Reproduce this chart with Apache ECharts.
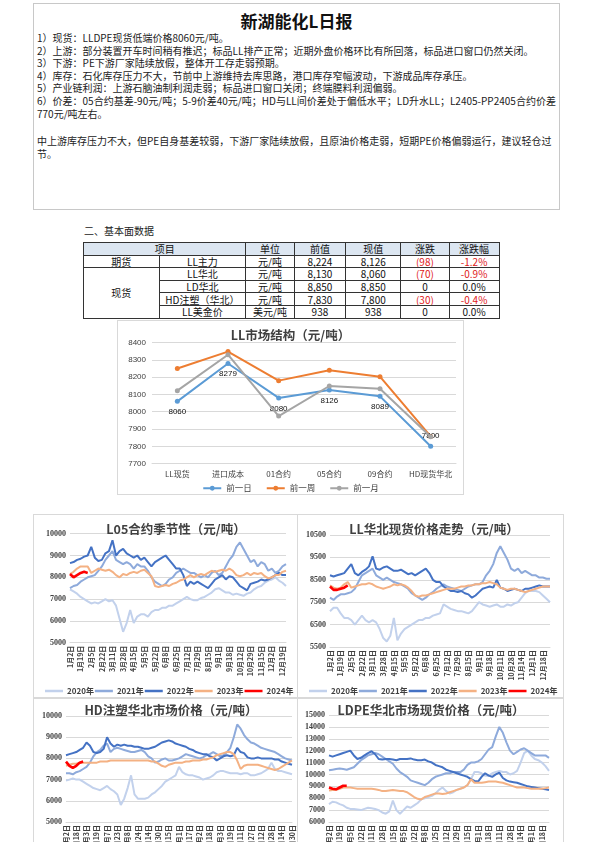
<!DOCTYPE html>
<html><head><meta charset="utf-8">
<script src="https://cdn.jsdelivr.net/npm/echarts@6/dist/echarts.min.js"></script>
<style>
html,body{margin:0;padding:0;background:#fff;width:595px;height:842px;overflow:hidden;font-family:"Noto Sans CJK SC",sans-serif;color:#1a1a1a;}
.abs{position:absolute;}
#box{left:33px;top:3px;width:525px;height:205px;border:1px solid #c8c8c8;}
#ttl{left:0;width:525px;top:7px;text-align:center;font-size:17px;font-weight:bold;line-height:20px;color:#111;}
.ln{position:absolute;left:3px;font-size:10px;line-height:12px;white-space:nowrap;color:#222;}
#sec{left:84px;top:225px;font-size:10px;line-height:12px;color:#222;}
table{position:absolute;left:83px;top:242px;border-collapse:collapse;table-layout:fixed;font-size:10px;color:#111;}
td{border:1px solid #333;height:11.6px;padding:0;line-height:11px;text-align:center;white-space:nowrap;overflow:hidden;}
td.h{background:#dce6f1;}
.red{color:#e02020;}
.cbox{position:absolute;border:1px solid #d9d9d9;overflow:hidden;}
</style></head>
<body>
<div id="box" class="abs">
  <div id="ttl" class="abs">新湖能化L日报</div>
  <div class="ln" style="top:28px">1）现货：LLDPE现货低端价格8060元/吨。</div>
  <div class="ln" style="top:40.5px">2）上游：部分装置开车时间稍有推迟；标品LL排产正常；近期外盘价格环比有所回落，标品进口窗口仍然关闭。</div>
  <div class="ln" style="top:53px">3）下游：PE下游厂家陆续放假，整体开工存走弱预期。</div>
  <div class="ln" style="top:65.5px">4）库存：石化库存压力不大，节前中上游维持去库思路，港口库存窄幅波动，下游成品库存承压。</div>
  <div class="ln" style="top:78px">5）产业链利润：上游石脑油制利润走弱；标品进口窗口关闭；终端膜料利润偏弱。</div>
  <div class="ln" style="top:91px">6）价差：05合约基差-90元/吨；5-9价差40元/吨；HD与LL间价差处于偏低水平；LD升水LL；L2405-PP2405合约价差</div>
  <div class="ln" style="top:103.5px">770元/吨左右。</div>
  <div class="ln" style="top:131px">中上游库存压力不大，但PE自身基差较弱，下游厂家陆续放假，且原油价格走弱，短期PE价格偏弱运行，建议轻仓过</div>
  <div class="ln" style="top:144px">节。</div>
</div>
<div id="sec" class="abs">二、基本面数据</div>
<table>
<colgroup><col style="width:75.6px"><col style="width:86.7px"><col style="width:48.3px"><col style="width:51.7px"><col style="width:55px"><col style="width:48.3px"><col style="width:50px"></colgroup>
<tr><td class="h" colspan="2">项目</td><td class="h">单位</td><td class="h">前值</td><td class="h">现值</td><td class="h">涨跌</td><td class="h">涨跌幅</td></tr>
<tr><td>期货</td><td>LL主力</td><td>元/吨</td><td>8,224</td><td>8,126</td><td class="red">(98)</td><td class="red">-1.2%</td></tr>
<tr><td rowspan="4">现货</td><td>LL华北</td><td>元/吨</td><td>8,130</td><td>8,060</td><td class="red">(70)</td><td class="red">-0.9%</td></tr>
<tr><td>LD华北</td><td>元/吨</td><td>8,850</td><td>8,850</td><td>0</td><td>0.0%</td></tr>
<tr><td>HD注塑（华北）</td><td>元/吨</td><td>7,830</td><td>7,800</td><td class="red">(30)</td><td class="red">-0.4%</td></tr>
<tr><td>LL美金价</td><td>美元/吨</td><td>938</td><td>938</td><td>0</td><td>0.0%</td></tr>
</table>
<div id="mkt" class="cbox" style="left:117px;top:320px;width:345px;height:173px;"></div>
<div id="c1" class="cbox" style="left:33px;top:514px;width:263px;height:183px;"></div>
<div id="c2" class="cbox" style="left:297px;top:514px;width:265px;height:183px;"></div>
<div id="c3" class="cbox" style="left:33px;top:697px;width:263px;height:178px;"></div>
<div id="c4" class="cbox" style="left:297px;top:697px;width:265px;height:178px;"></div>
<script>
// ---------- LL市场结构 ----------
const mktCats = ['LL现货','进口成本','01合约','05合约','09合约','HD现货华北'];
const mktDay = [8060,8279,8080,8126,8089,7800];
const mktWeek = [8250,8348,8180,8240,8203,7857];
const mktMonth = [8122,8330,7975,8149,8133,7855];
const mktTicks = [7700,8400,100];

// ---------- 季节性图 tick labels ----------
const l05Ticks = ["1月2日","1月19日","2月5日","2月22日","3月11日","3月28日","4月15日","5月5日","5月22日","6月8日","6月25日","7月12日","7月29日","8月15日","9月1日","9月18日","10月12日","10月29日","11月15日","12月2日","12月19日"];
const llTicks = ["1月2日","1月19日","2月5日","2月22日","3月11日","3月28日","4月15日","5月5日","5月22日","6月8日","6月25日","7月12日","7月29日","8月15日","9月1日","9月18日","10月11日","10月28日","11月14日","12月1日","12月18日"];
const hdTicks = ["1月2日","1月18日","2月3日","2月19日","3月7日","3月23日","4月8日","4月24日","5月14日","5月30日","6月15日","7月1日","7月17日","8月2日","8月18日","9月3日","9月19日","10月11日","10月27日","11月12日","11月28日","12月14日","12月30日"];
const ldpeTicks = ["1月2日","1月19日","2月5日","2月22日","3月11日","3月28日","4月15日","5月5日","5月22日","6月8日","6月25日","7月12日","7月29日","8月15日","9月1日","9月18日","10月11日","10月28日","11月14日","12月1日","12月18日"];
const years = ['2020年','2021年','2022年','2023年','2024年'];

// L05合约季节性
const l05_2020 = [7450,7350,7250,7100,7000,6900,6800,6850,6800,6900,7000,6900,6950,6700,6100,5500,5900,6500,5900,6200,6300,6300,6200,6400,6500,6500,6600,6600,6700,6700,6800,6900,7000,7100,7000,6950,6950,7050,7100,7200,7300,7450,7500,7400,7300,7300,7200,7250,7200,7150,7250,7300,7450,7550,7600,7750,7850,7900,8000,7850,7750,7600];
const l05_2021 = [7500,7600,7650,7800,7900,8000,8050,8100,8300,8500,8800,9000,9200,8800,8700,8600,8700,8600,8400,8600,8500,8500,8300,8000,7800,7700,7600,7700,7900,8000,8200,8300,8400,8300,8200,8200,8100,8000,8100,8000,8200,8300,8100,8200,8500,8800,9000,9400,9600,9300,9000,8700,8800,8500,8700,8600,8300,8400,8200,8300,8500,8600];
const l05_2022 = [8650,8700,8800,8850,8950,9000,9400,8900,8750,8800,9100,9200,9700,9000,9200,9300,9100,9000,8900,9000,8800,8900,8700,8500,8700,8800,8900,9000,8800,8600,8400,8400,8100,7600,7800,7700,7800,7700,7600,7500,7700,7900,8000,8100,7900,8050,8000,7800,7600,7500,7400,7700,7750,7800,7900,7850,7900,8000,8100,8200,8100,8100];
const l05_2023 = [8150,8250,8400,8500,8500,8500,8200,8300,8400,8350,8300,8350,8250,8100,8000,8150,8100,8200,8250,8200,8300,8350,8200,8050,7600,7550,7600,7650,7600,7700,7750,7850,7900,8000,8100,8000,8100,8150,8100,8200,8300,8250,8300,8350,8300,8400,8300,8100,8050,8100,8200,8100,8200,8150,8200,8050,7950,8000,8100,8100,8250,8300];
const l05_2024 = [8150,8000,8100,8200,8250,8200];

// LL华北现货价格走势
const ll_2020 = [7100,7250,7250,7000,6800,6800,6700,6500,6700,6900,6700,6600,6700,6600,6300,5900,5750,6000,6800,5800,6100,6300,6400,6500,6600,6700,6700,6800,6800,6900,6950,7000,7400,7300,7200,7150,7100,7100,7050,7000,7100,7300,7500,7400,7350,7300,7350,7400,7300,7300,7400,7350,7450,7500,7700,7900,8000,8000,8000,7950,7800,7650,7500];
const ll_2021 = [7700,7600,7750,7850,7850,7900,7950,8100,8400,8700,8800,8900,9000,8700,8600,8500,8600,8500,8400,8350,8300,8200,8100,7900,7800,7700,7600,7700,7850,7950,8100,8200,8300,8200,8150,8100,8050,8000,8100,8200,8250,8300,8300,8400,8700,8900,9200,9700,10000,9700,9400,9000,8900,9000,8800,8900,8800,8700,8700,8600,8600,8550,8550];
const ll_2022 = [8700,8650,8700,8750,8800,9000,9200,8800,8700,8850,8950,9100,9550,9000,8950,9050,9100,9000,8900,8900,8950,8850,8750,8800,8700,8800,8900,9000,8800,8500,8400,8400,8200,8100,8000,8000,7950,8000,7900,7850,7700,7800,7950,8100,8150,8200,8150,8500,8150,8100,8000,8050,8100,8050,8000,8100,8100,8150,8200,8250,8200,8200,8200];
const ll_2023 = [8250,8150,8100,8150,8300,8400,8150,8200,8250,8300,8300,8350,8300,8200,8150,8100,8150,8200,8300,8250,8300,8250,8150,8000,7800,7750,7800,7800,7850,7900,7950,8000,8050,8100,8100,8100,8150,8200,8200,8250,8250,8300,8300,8350,8350,8400,8350,8300,8150,8100,8050,8100,8100,8050,8000,7950,8000,8050,8100,8150,8200,8200,8200];
const ll_2024 = [8200,8050,8050,8100,8150,8250];

// HD注塑华北市场价格
const hd_2020 = [6950,7000,7050,7000,7000,6900,6800,6700,6600,6550,6500,6600,6700,6550,6450,6300,5800,6100,6600,7200,6300,6100,6100,6100,6150,6300,6400,6550,6700,6900,7000,7100,7200,7600,7350,7250,7200,7200,7150,7100,7000,7050,7100,7200,7350,7400,7400,7350,7300,7300,7300,7250,7300,7300,7200,7200,7250,7300,7400,7500,7800,7500,7400,7400,7350,7300,7250];
const hd_2021 = [7300,7300,7250,7350,7400,7500,7600,7800,8100,8300,8400,8600,8700,8300,8450,8500,8450,8400,8350,8300,8300,8350,8400,8300,8100,8000,7800,7850,7950,8000,7900,7900,7950,8000,8100,8200,8150,8100,8050,8000,8050,8150,8200,8300,8200,8100,8150,8300,8500,9000,9600,9400,9100,8900,8750,8700,8600,8500,8450,8400,8350,8300,8200,8100,8000,7950,7900];
const hd_2022 = [8150,8200,8250,8300,8400,8500,8750,8600,8300,8250,8300,8450,9000,8700,8550,8650,8600,8650,8600,8600,8550,8550,8500,8450,8450,8500,8550,8650,8750,8800,8850,8800,8700,8650,8600,8550,8450,8400,8300,8250,8200,8200,8100,8050,7900,8000,8100,8150,8100,8150,8500,8300,8250,8050,8000,8000,8050,8000,8000,8000,8000,7950,7950,7850,7800,7750,7700];
const hd_2023 = [7650,7700,7750,7750,7800,7800,7800,7800,7800,7800,7850,7850,7850,7900,7900,7900,7900,7900,7900,7900,7900,7900,7900,7900,7900,7850,7850,7750,7650,7600,7700,7750,7800,7800,7800,7850,7850,7900,7900,7900,7950,7950,8000,8050,8150,8200,8250,8300,8300,8200,7900,7500,7650,7700,7700,7700,7700,7650,7600,7550,7500,7450,7500,7600,7700,7800,7900];
const hd_2024 = [7850,7650,7550,7650,7800,7850];

// LDPE华北市场现货价格
const ld_2020 = [7500,7700,7650,7500,7400,7200,7100,7100,7050,7000,7100,7200,7150,7100,7000,6800,6700,6900,7800,7000,6700,7000,7300,7200,7400,7600,7900,8000,8100,8200,8400,8700,8900,8600,8400,8500,8700,8800,8900,9100,9600,10200,10200,10100,9900,9900,10100,10200,10300,10200,10200,10000,10100,10300,11000,11800,12000,11600,11300,11200,11000,10700,10300];
const ld_2021 = [10350,10400,10450,10500,10450,10400,10500,10600,10900,11200,11400,11600,11700,11800,11700,11500,11300,11100,10900,10500,10200,10000,9800,9500,9400,9300,9200,9100,9300,9600,9800,9900,10000,10100,10100,10200,10200,10200,10400,10800,11000,11000,11100,11300,11700,12100,12300,13200,14000,13500,12700,12000,11700,11900,12100,12200,12000,11800,11600,11600,11600,11600,11400];
const ld_2022 = [11600,11500,11600,11700,11800,11900,12000,11600,11300,11400,11600,11800,11950,11700,11300,11250,11300,11300,11250,11200,11300,11300,11300,11350,11250,11200,11200,11250,11100,11000,10800,10700,10600,10400,10300,10200,10100,10000,9900,9800,9600,9450,9400,9800,10100,9900,9800,10000,10150,9700,9500,9400,9350,9300,9200,9100,9000,8950,8900,8850,8800,8750,8700];
const ld_2023 = [8650,8700,8700,8800,8900,8900,8900,8850,8800,8800,8800,8800,8800,8750,8700,8600,8600,8650,8700,8650,8600,8600,8500,8300,8100,7950,7900,8100,8200,8300,8400,8400,8350,8400,8500,8600,8700,8800,8900,9100,9600,9300,9300,9300,9350,9400,9400,9400,9350,9300,9200,9100,9000,8900,8900,8900,8850,8800,8800,8800,8800,8850,8900];
const ld_2024 = [8900,8800,8750,8900,9050,9050];

const yearColors = ['#c2d1ec','#8eaadb','#4472c4','#f4b183','#ff0000'];
const CJK = '"Noto Sans CJK SC", sans-serif';
const plain = v => String(v);

function buildCats(ticks, n){
  const c = [];
  for (let k = 0; k < n; k++) {
    c.push(k % 3 === 0 && ticks[k/3] !== undefined ? ticks[k/3] : '\u200b' + k);
  }
  return c;
}

function seasonal(id, cfg){
  const ch = echarts.init(document.getElementById(id), null, {renderer:'canvas'});
  const n = cfg.data[0].length;
  ch.setOption({
    animation:false,
    title:{text:cfg.title, left:cfg.titleX, top:cfg.titleTop, textAlign:'center',
      textStyle:{fontSize:12.5, fontWeight:'bold', color:'#404040', fontFamily:CJK}},
    legend:{data:years, top:cfg.legendTop, left:6, width:300, icon:'rect', itemWidth:18, itemHeight:2.5, itemGap:1,
      textStyle:{fontSize:8, fontWeight:'bold', color:'#404040', fontFamily:CJK, padding:[0,0,0,-1]}},
    grid:{left:cfg.left, right:cfg.right, top:cfg.top, height:cfg.height, containLabel:false},
    xAxis:{type:'category', data:buildCats(cfg.ticks, n), boundaryGap:false,
      axisLine:{lineStyle:{color:'#d9d9d9'}}, axisTick:{show:false},
      axisLabel:{interval:2, rotate:90, fontSize:7, fontWeight:'bold', color:'#404040', margin:3, fontFamily:CJK}},
    yAxis:{type:'value', min:cfg.min, max:cfg.max, interval:cfg.interval,
      axisLine:{show:false}, axisTick:{show:false},
      splitLine:{lineStyle:{color:'#d9d9d9', width:1}},
      axisLabel:{formatter:plain, fontSize:8, fontWeight:'bold', color:'#404040', margin:4, fontFamily:'"Liberation Serif", serif'}},
    series: cfg.data.map((d,i)=>({
      name:years[i], type:'line', data:d, symbol:'none', showSymbol:false,
      lineStyle:{width: i===4 ? 2.6 : 2, color:yearColors[i]}, itemStyle:{color:yearColors[i]},
      z: 2+i
    }))
  });
}

seasonal('c1', {title:'L05合约季节性（元/吨）', titleX:137, titleTop:3, legendTop:167,
  left:36, right:11, top:18.7, height:109, min:5000, max:10000, interval:1000,
  ticks:l05Ticks, data:[l05_2020,l05_2021,l05_2022,l05_2023,l05_2024]});
seasonal('c2', {title:'LL华北现货价格走势（元/吨）', titleX:131, titleTop:3, legendTop:167,
  left:32, right:13, top:20, height:112, min:5500, max:10500, interval:1000,
  ticks:llTicks, data:[ll_2020,ll_2021,ll_2022,ll_2023,ll_2024]});
seasonal('c3', {title:'HD注塑华北市场价格（元/吨）', titleX:132, titleTop:1, legendTop:165,
  left:32, right:5, top:18, height:106, min:5000, max:10000, interval:1000,
  ticks:hdTicks, data:[hd_2020,hd_2021,hd_2022,hd_2023,hd_2024]});
seasonal('c4', {title:'LDPE华北市场现货价格（元/吨）', titleX:128, titleTop:1, legendTop:165,
  left:31, right:14, top:17, height:107, min:6000, max:15000, interval:1000,
  ticks:ldpeTicks, data:[ld_2020,ld_2021,ld_2022,ld_2023,ld_2024]});

// market structure chart
const mk = echarts.init(document.getElementById('mkt'), null, {renderer:'canvas'});
const mkColors = ['#5b9bd5','#ed7d31','#a5a5a5'];
mk.setOption({
  animation:false,
  title:{text:'LL市场结构（元/吨）', left:'center', top:3,
    textStyle:{fontSize:12.5, fontWeight:'bold', color:'#404040', fontFamily:CJK}},
  legend:{data:['前一日','前一周','前一月'], top:158, left:'center', itemWidth:18, itemHeight:6, itemGap:14,
    textStyle:{fontSize:8.5, color:'#404040', fontFamily:CJK}},
  grid:{left:34, top:21.6, width:304, height:121, containLabel:false},
  xAxis:{type:'category', data:mktCats, axisLine:{lineStyle:{color:'#d9d9d9'}}, axisTick:{show:false},
    axisLabel:{interval:0, fontSize:8, color:'#404040', margin:6, fontFamily:CJK}},
  yAxis:{type:'value', min:mktTicks[0], max:mktTicks[1], interval:mktTicks[2],
    axisLine:{show:false}, axisTick:{show:false},
    splitLine:{lineStyle:{color:'#d9d9d9'}},
    axisLabel:{formatter:plain, fontSize:8, color:'#404040', margin:6, fontFamily:'"Liberation Sans", sans-serif'}},
  series:[
    {name:'前一日', type:'line', symbol:'circle', symbolSize:5, color:mkColors[0],
      lineStyle:{width:2, color:mkColors[0]}, itemStyle:{color:mkColors[0]},
      data: mktDay.map((v,i)=> i===mktDay.length-1 ? {value:v, label:{position:'top'}} : v),
      label:{show:true, position:'bottom', distance:4, fontSize:8, color:'#111', fontFamily:'"Liberation Sans", sans-serif'}, z:3},
    {name:'前一周', type:'line', symbol:'circle', symbolSize:5, color:mkColors[1],
      lineStyle:{width:2, color:mkColors[1]}, itemStyle:{color:mkColors[1]}, data:mktWeek, z:2},
    {name:'前一月', type:'line', symbol:'circle', symbolSize:5, color:mkColors[2],
      lineStyle:{width:2, color:mkColors[2]}, itemStyle:{color:mkColors[2]}, data:mktMonth, z:4}
  ]
});
</script>
</body></html>
